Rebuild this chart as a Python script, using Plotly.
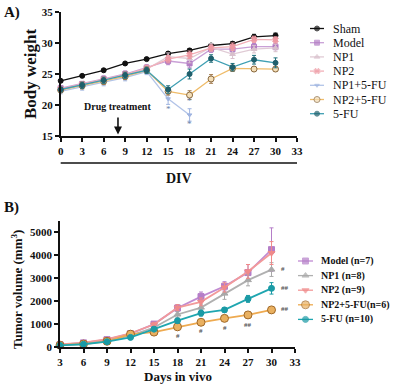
import plotly.graph_objects as go

# ---------------- Panel A data (body weight) ----------------
days_a = [0, 3, 6, 9, 12, 15, 18, 21, 24, 27, 30]
sham = [23.9, 24.7, 25.6, 26.7, 27.4, 28.3, 28.8, 29.6, 29.9, 31.0, 31.2]
model = [22.7, 23.4, 24.2, 25.0, 26.0, 27.1, 26.7, 29.0, 29.0, 29.4, 29.4]
np1 = [22.5, 23.3, 24.0, 24.8, 25.8, 27.8, 27.5, 29.3, 28.2, 29.0, 29.2]
np2 = [22.6, 23.4, 24.1, 24.9, 25.9, 27.4, 28.1, 29.2, 29.4, 30.6, 30.5]
np1_5fu = [22.2, 22.9, 23.6, 24.4, 25.4, 21.0, 18.4, None, None, None, None]
np2_5fu = [22.4, 23.1, 23.8, 24.6, 25.6, 22.2, 21.6, 24.2, 25.9, 25.8, 25.8]
fu = [22.5, 23.2, 24.0, 24.8, 25.6, 22.5, 25.0, 27.5, 26.1, 27.3, 26.8]

err_sham = [0.2, 0.2, 0.2, 0.2, 0.2, 0.3, 0.3, 0.3, 0.3, 0.4, 0.4]
err_model = [0.4, 0.4, 0.5, 0.5, 0.5, 0.6, 0.7, 0.5, 0.6, 0.5, 0.5]
err_np1 = [0.4, 0.4, 0.5, 0.5, 0.5, 0.6, 0.7, 0.6, 0.7, 0.6, 0.6]
err_np2 = [0.4, 0.4, 0.5, 0.5, 0.5, 0.6, 0.6, 0.5, 0.6, 0.5, 0.5]
err_np1_5fu = [0.4, 0.5, 0.5, 0.5, 0.5, 0.9, 1.0, None, None, None, None]
err_np2_5fu = [0.4, 0.5, 0.5, 0.5, 0.5, 0.6, 0.7, 0.7, 0.5, 0.4, 0.4]
err_fu = [0.4, 0.5, 0.5, 0.5, 0.5, 0.6, 0.8, 0.6, 0.6, 0.7, 0.8]

names_a = ["Sham", "Model", "NP1", "NP2", "NP1+5-FU", "NP2+5-FU", "5-FU"]

# significance marks panel A
star_a_x = [15, 18, 18]
star_a_y = [19.4, 20.6, 17.0]

# ---------------- Panel B data (tumor volume) ----------------
days_b = [3, 6, 9, 12, 15, 18, 21, 24, 27, 30]
model_b = [100, 180, 320, 580, 1000, 1700, 2200, 2650, 3250, 4250]
np1_b = [90, 160, 280, 500, 850, 1420, 1720, 2330, 2920, 3380]
np2_b = [110, 190, 340, 600, 980, 1720, 1970, 2600, 3300, 4100]
np25_b = [80, 130, 250, 560, 650, 880, 1080, 1250, 1400, 1620]
fu_b = [70, 120, 230, 420, 780, 1150, 1480, 1620, 2100, 2560]

err_model_b = [20, 30, 50, 60, 100, 150, 200, 200, 350, 950]
err_np1_b = [20, 30, 40, 60, 90, 120, 150, 250, 250, 300]
err_np2_b = [20, 30, 50, 60, 100, 130, 170, 200, 300, 500]
err_np25_b = [20, 20, 40, 60, 60, 70, 80, 90, 100, 100]
err_fu_b = [20, 20, 40, 50, 80, 100, 130, 100, 150, 250]

names_b = ["Model (n=7)", "NP1 (n=8)", "NP2 (n=9)", "NP2+5-FU(n=6)", "5-FU (n=10)"]

hash_x = [30.9, 30.9, 30.9, 18, 21, 24, 27]
hash_y = [3400, 2580, 1640, 480, 680, 820, 950]
hash_t = ["#", "##", "##", "#", "#", "#", "##"]

SERIF = "Liberation Serif"
W, H = 394, 386

fig = go.Figure()


def add_series(x, y, err, color, line_color, symbol, size, xa, ya, fill=None, edge=None, lw=1.3):
    fig.add_trace(go.Scatter(
        x=x, y=y, mode="lines+markers", xaxis=xa, yaxis=ya, showlegend=False,
        cliponaxis=False, connectgaps=False,
        line=dict(color=line_color, width=lw),
        marker=dict(symbol=symbol, size=size, color=fill or color,
                    line=dict(color=edge or color, width=1)),
        error_y=dict(type="data", array=err, color=color, thickness=1, width=2),
    ))


# styles panel A: (color, line color, symbol, size, fill, edge)
styles_a = [
    ("#111111", "#111111", "circle", 5, None, None),
    ("#b27cc4", "#c9a0d6", "square", 5, None, None),
    ("#d8c0cc", "#e0cbd5", "triangle-up", 5, None, None),
    ("#ee98a2", "#f2b0b8", "x", 5, None, None),
    ("#9fb4e0", "#b2c4e8", "triangle-down", 4, None, None),
    ("#a0784a", "#efbc6a", "circle", 6, "#f5dfb8", "#8a6a40"),
    ("#1f6f7c", "#3f9fb3", "circle", 5, "#1f5f6c", "#1f5f6c"),
]
series_a = [sham, model, np1, np2, np1_5fu, np2_5fu, fu]
errs_a = [err_sham, err_model, err_np1, err_np2, err_np1_5fu, err_np2_5fu, err_fu]

for s, e, st in zip(series_a, errs_a, styles_a):
    add_series(days_a, s, e, st[0], st[1], st[2], st[3], "x", "y", st[4], st[5])

styles_b = [
    ("#b57ec8", "#c08ad2", "square", 6, None, None),
    ("#a8a8a8", "#b0b0b0", "triangle-up", 6, None, None),
    ("#f08a8a", "#f29a9a", "triangle-down", 6, None, None),
    ("#a86a28", "#eeaa50", "circle", 8, "#e9b060", "#a06828"),
    ("#1a9aa5", "#1fa6b0", "circle", 6, None, None),
]
series_b = [model_b, np1_b, np2_b, np25_b, fu_b]
errs_b = [err_model_b, err_np1_b, err_np2_b, err_np25_b, err_fu_b]
for s, e, st in zip(series_b, errs_b, styles_b):
    add_series(days_b, s, e, st[0], st[1], st[2], st[3], "x2", "y2", st[4], st[5], lw=1.8)

# ---------------- manual legends on a full-figure pixel overlay ----------------
annotations = []


def legend(names, styles, x_sym0, x_sym1, x_text, y0, dy, fsize, bold):
    for i, (nm, st) in enumerate(zip(names, styles)):
        yy = y0 + i * dy
        xm = (x_sym0 + x_sym1) / 2
        fig.add_trace(go.Scatter(
            x=[x_sym0, xm, x_sym1], y=[yy, yy, yy], mode="lines+markers",
            xaxis="x3", yaxis="y3", showlegend=False, hoverinfo="skip",
            line=dict(color=st[1], width=1.3),
            marker=dict(symbol=st[2], size=[0, st[3], 0], color=st[4] or st[0],
                        line=dict(color=st[5] or st[0], width=1)),
        ))
        annotations.append(dict(
            x=x_text, y=yy, xref="x3", yref="y3", xanchor="left", yanchor="middle",
            text=(f"<b>{nm}</b>" if bold else nm), showarrow=False,
            font=dict(family=SERIF, size=fsize, color="#111111"),
        ))


legend(names_a, styles_a, 310, 324, 331, 28.5, 14.2, 12, False)
legend(names_b, styles_b, 298, 313, 319, 261, 14.6, 10, True)

# significance marks
for xx, yy in zip(star_a_x, star_a_y):
    annotations.append(dict(x=xx, y=yy, xref="x", yref="y", text="*", showarrow=False,
                            font=dict(family=SERIF, size=9, color="#6a7fa8")))
for xx, yy, tt in zip(hash_x, hash_y, hash_t):
    annotations.append(dict(x=xx, y=yy, xref="x2", yref="y2", text=f"<b>{tt}</b>", showarrow=False,
                            xanchor="left" if xx > 30 else "center",
                            font=dict(family=SERIF, size=7, color="#555555")))

# Drug treatment arrow
annotations.append(dict(x=8, y=15.25, xref="x", yref="y", ax=8, ay=19.75, axref="x", ayref="y",
                        text="<b>Drug treatment</b>", showarrow=True, arrowhead=2, arrowsize=1,
                        arrowwidth=1.6, arrowcolor="#111111", startstandoff=4,
                        font=dict(family=SERIF, size=10, color="#111111")))

# panel labels and axis titles
annotations += [
    dict(x=2 / W, y=1 - 12 / H, xref="paper", yref="paper", text="<b>A)</b>", showarrow=False,
         xanchor="left", yanchor="middle", font=dict(family=SERIF, size=15, color="#111")),
    dict(x=2 / W, y=1 - 207 / H, xref="paper", yref="paper", text="<b>B)</b>", showarrow=False,
         xanchor="left", yanchor="middle", font=dict(family=SERIF, size=15, color="#111")),
    dict(x=30 / W, y=1 - 74 / H, xref="paper", yref="paper", text="<b>Body weight</b>", showarrow=False,
         textangle=-90, xanchor="center", yanchor="middle", font=dict(family=SERIF, size=17, color="#111")),
    dict(x=17 / W, y=1 - 290 / H, xref="paper", yref="paper", text="<b>Tumor volume (mm<sup>3</sup>)</b>",
         showarrow=False, textangle=-90, xanchor="center", yanchor="middle",
         font=dict(family=SERIF, size=13, color="#111")),
    dict(x=16.5, y=1 - 178 / H, xref="x", yref="paper", text="<b>DIV</b>", showarrow=False,
         xanchor="center", yanchor="middle", font=dict(family=SERIF, size=14, color="#111")),
    dict(x=18, y=1 - 376 / H, xref="x2", yref="paper", text="<b>Days in vivo</b>", showarrow=False,
         xanchor="center", yanchor="middle", font=dict(family=SERIF, size=13, color="#111")),
]

# DIV bracket line under panel A
line_y = 1 - 163 / H
shapes = [
    dict(type="line", xref="x", yref="paper", x0=-0.5, x1=33.2, y0=line_y, y1=line_y,
         line=dict(color="#111", width=1.3)),
    dict(type="line", xref="x", yref="paper", x0=-0.5, x1=-0.5, y0=line_y - 5 / H, y1=line_y + 5 / H,
         line=dict(color="#111", width=1.3)),
    dict(type="line", xref="x", yref="paper", x0=33.2, x1=33.2, y0=line_y - 5 / H, y1=line_y + 5 / H,
         line=dict(color="#111", width=1.3)),
]

tickfont = dict(family=SERIF, size=11, color="#111111")
axis_common = dict(showline=True, linecolor="#111111", linewidth=1.5, ticks="outside", ticklen=4,
                   tickwidth=1.5, tickcolor="#111111", showgrid=False, zeroline=False,
                   tickfont=tickfont, fixedrange=True)

fig.update_layout(
    width=W, height=H, margin=dict(l=0, r=0, t=0, b=0, autoexpand=False),
    paper_bgcolor="white", plot_bgcolor="rgba(0,0,0,0)", showlegend=False,
    xaxis=dict(domain=[60.7 / W, 297 / W], range=[0, 33], tickvals=days_a + [33],
               ticktext=[f"<b>{v}</b>" for v in days_a + [33]], anchor="y", **axis_common),
    yaxis=dict(domain=[1 - 136 / H, 1 - 12 / H], range=[15, 35], tickvals=[15, 20, 25, 30, 35],
               ticktext=[f"<b>{v}</b>" for v in [15, 20, 25, 30, 35]], anchor="x", **axis_common),
    xaxis2=dict(domain=[60 / W, 295 / W], range=[3, 33], tickvals=days_b + [33],
                ticktext=[f"<b>{v}</b>" for v in days_b + [33]], anchor="y2", **axis_common),
    yaxis2=dict(domain=[1 - 347 / H, 1 - 221 / H], range=[0, 5500], tickvals=[0, 1000, 2000, 3000, 4000, 5000],
                ticktext=[f"<b>{v}</b>" for v in [0, 1000, 2000, 3000, 4000, 5000]], anchor="x2", **axis_common),
    xaxis3=dict(domain=[0, 1], range=[0, W], visible=False, fixedrange=True, anchor="y3"),
    yaxis3=dict(domain=[0, 1], range=[H, 0], visible=False, fixedrange=True, anchor="x3"),
    annotations=annotations, shapes=shapes,
)

fig.write_html("out.html", config={"displayModeBar": False},
               post_script="document.body.style.margin='0';document.body.style.padding='0';")
